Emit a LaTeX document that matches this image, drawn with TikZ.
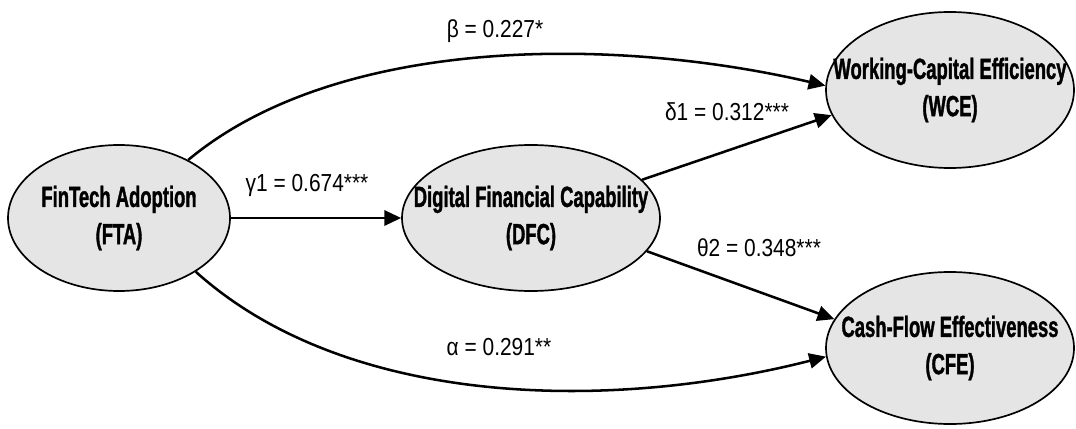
\documentclass[tikz,border=0pt]{standalone}
\usepackage{fontspec}
\setmainfont{Liberation Sans}
\newfontfamily\boxfont{Liberation Sans}[FakeStretch=0.63, FakeBold=1.2]
\newfontfamily\coeffont{Liberation Sans}[FakeStretch=0.85]
\usetikzlibrary{arrows.meta, shapes.geometric, positioning}

\begin{document}
\begin{tikzpicture}[
        construct/.style={
            ellipse, draw=black, line width=1.2pt, fill=gray!20,
            minimum width=#1, minimum height=3.65cm, inner sep=0pt
        },
        construct/.default=6.2cm,
        conname/.style={font=\boxfont\bfseries\fontsize{20.8}{26.5}\selectfont, align=center},
        effect/.style={-{Triangle[length=0.42cm, width=0.38cm]}, line width=1.8pt},
        coef/.style={font=\coeffont\fontsize{17.5}{20}\selectfont}
    ]
    \useasboundingbox (0, 0) rectangle (26.9, 10.7);

    % constructs
    \node[construct=5.55cm, label={[conname]center:{FinTech Adoption\\(FTA)}}] (FTA) at (2.975, 5.25) {};
    \node[construct=6.45cm, label={[conname]center:{Digital Financial Capability\\(DFC)}}] (DFC) at (13.275, 5.25) {};
    \node[construct, minimum height=3.9cm, label={[conname]center:{Working-Capital Efficiency\\(WCE)}}] (WCE) at (23.75, 8.45) {};
    \node[construct, minimum height=3.8cm, label={[conname]center:{Cash-Flow Effectiveness\\(CFE)}}] (CFE) at (23.75, 2.0) {};

    % paths
    \draw[effect] (FTA.east) -- (DFC.west) node at (7.675, 6.075)[coef] {γ1 = 0.674***};
    \draw[effect] (DFC.19) -- (WCE.192) node at (18.175, 7.9)[coef] {δ1 = 0.312***};
    \draw[effect] (DFC.-16) -- (CFE.166) node at (18.975, 4.5)[coef] {θ2 = 0.348***};
    \draw[effect] (FTA.40) .. controls +(3.75, 3.125) and +(-5.25, 1.225) .. (WCE.178)
        node at (12.375, 9.925)[coef] {β = 0.227*};
    \draw[effect] (FTA.-35) .. controls +(3.75, -3.375) and +(-5.5, -1.4) .. (CFE.184)
        node at (12.475, 2.025)[coef] {α = 0.291**};
\end{tikzpicture}
\end{document}
